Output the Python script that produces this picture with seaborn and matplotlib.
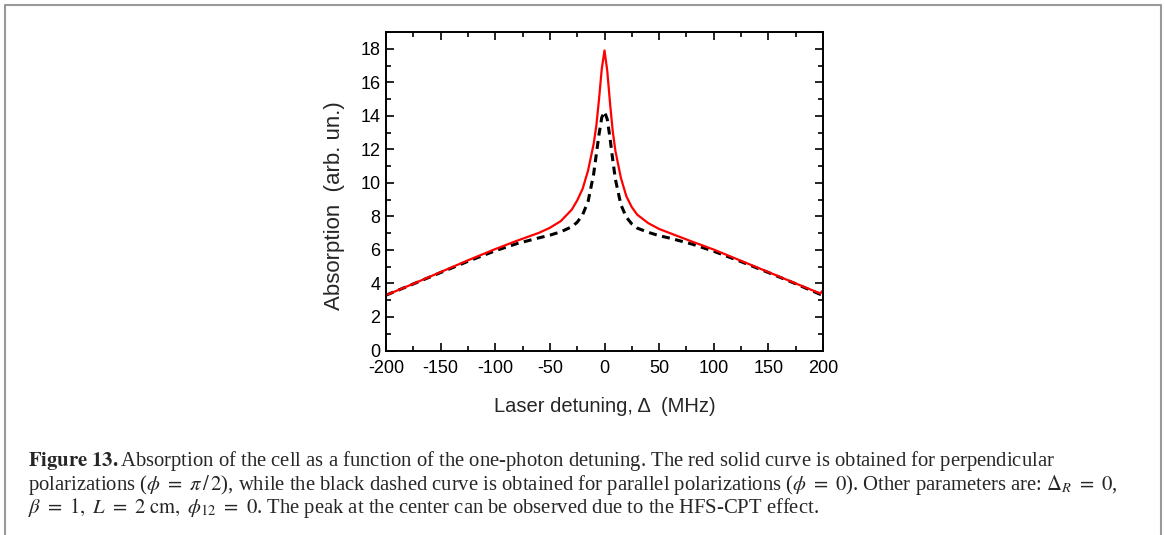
"""
Absorption of the cell vs. one-photon detuning (Figure 13 recreation).
Red solid: perpendicular polarizations, black dashed: parallel ones.
"""

import pandas as pd
import seaborn as sns
import matplotlib.pyplot as plt
from matplotlib.lines import Line2D
from matplotlib.ticker import MultipleLocator


detuning = [-200, -175, -150, -125, -100, -80, -60, -50, -40, -30, -25,
            -20, -15, -10, -7.5, -5, -2.5, 0, 2.5, 5, 7.5, 10, 15, 20, 25,
            30, 40, 50, 60, 80, 100, 125, 150, 175, 197.5, 200]

perpendicular = [3.30, 3.98, 4.68, 5.38, 6.05, 6.55, 7.02, 7.32, 7.72, 8.40,
                 8.95, 9.65, 10.75, 12.30, 13.40, 15.00, 16.80, 17.90, 16.70,
                 14.80, 13.10, 11.90, 10.30, 9.20, 8.55, 8.10, 7.60, 7.25,
                 7.00, 6.50, 6.02, 5.35, 4.68, 4.00, 3.40, 3.60]

parallel = [3.30, 3.97, 4.65, 5.32, 5.95, 6.38, 6.72, 6.88, 7.08, 7.38,
            7.65, 8.10, 8.90, 10.50, 11.70, 12.90, 13.90, 14.25, 13.80,
            12.70, 11.40, 10.20, 8.70, 7.95, 7.55, 7.30, 7.05, 6.85, 6.70,
            6.35, 5.92, 5.30, 4.65, 3.98, 3.35, 3.35]

caption_lines = [
    r'$\mathbf{Figure\ 13.}$Absorption of the cell as a function of the '
    r'one-photon detuning. The red solid curve is obtained for perpendicular',
    r'polarizations ($\phi\ =\ \pi\,/\,2$), while the black dashed curve is '
    r'obtained for parallel polarizations ($\phi\ =\ 0$). Other parameters '
    r'are: $\Delta_R\ =\ 0$,',
    r'$\beta\ =\ 1,\ L\ =\ 2\ \mathrm{cm},\ \phi_{12}\ =\ 0$. The peak at the '
    r'center can be observed due to the HFS-CPT effect.',
]


def draw_curves(ax):
    data = pd.DataFrame({'Detuning': detuning,
                         'Perpendicular': perpendicular,
                         'Parallel': parallel})
    sns.lineplot(x='Detuning', y='Parallel', data=data, ax=ax,
                 color='black', linewidth=2.2, linestyle=(0, (2.6, 1.8)),
                 sort=False, estimator=None)
    sns.lineplot(x='Detuning', y='Perpendicular', data=data, ax=ax,
                 color='#ff0000', linewidth=1.6, sort=False, estimator=None)


def style_axes(ax):
    ax.set_xlim(-200, 200)
    ax.set_ylim(0, 19)
    ax.xaxis.set_major_locator(MultipleLocator(50))
    ax.xaxis.set_minor_locator(MultipleLocator(25))
    ax.yaxis.set_major_locator(MultipleLocator(2))
    ax.yaxis.set_minor_locator(MultipleLocator(1))
    ax.tick_params(which='both', direction='in', top=True, right=True,
                   width=1.2, labelsize=13, colors='black')
    ax.tick_params(which='major', length=6)
    ax.tick_params(which='minor', length=3.5)
    ax.tick_params(axis='x', which='major', pad=7)
    ax.tick_params(axis='y', which='major', pad=4)
    for spine in ax.spines.values():
        spine.set_visible(True)
        spine.set_linewidth(1.4)
        spine.set_color('black')
    ax.set_xlabel('Laser detuning, \u0394  (MHz)', fontsize=14.5,
                  labelpad=14)
    ax.set_ylabel('Absorption  (arb. un.)', fontsize=16)
    ax.yaxis.set_label_coords(-0.094, 0.454)


def draw_caption(fig):
    ys = [461, 485, 508]
    for text, y in zip(caption_lines, ys):
        fig.text(28 / 1165, 1 - y / 535, text, fontsize=14.9,
                 family='Liberation Serif', va='center', ha='left')


def draw_frame(fig):
    # grey box around the whole figure, open at the bottom
    xy = [(5, 535), (5, 5), (1161, 5), (1161, 535)]
    xs = [p[0] / 1165 for p in xy]
    ys = [1 - p[1] / 535 for p in xy]
    fig.add_artist(Line2D(xs, ys, color='#999999', linewidth=1.5))


def main():
    sns.set_style('ticks')
    plt.rcParams['font.family'] = ['Liberation Sans', 'DejaVu Sans']
    plt.rcParams['mathtext.fontset'] = 'stix'
    plt.rcParams['axes.unicode_minus'] = False
    fig = plt.figure(figsize=(11.65, 5.35), dpi=100)
    ax = fig.add_axes([386 / 1165, 1 - 350.5 / 535, 437 / 1165,
                       318.5 / 535])
    draw_curves(ax)
    style_axes(ax)
    draw_caption(fig)
    draw_frame(fig)
    fig.savefig('out.png', dpi=100)


if __name__ == '__main__':
    main()
